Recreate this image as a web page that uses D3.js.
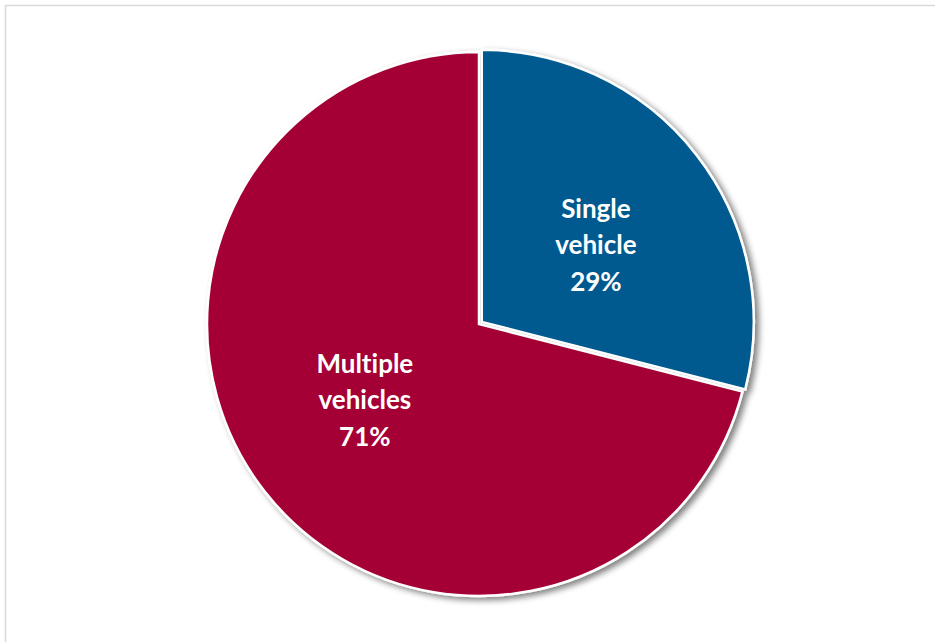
<!DOCTYPE html>
<html>
<head>
<meta charset="utf-8">
<script src="https://cdn.jsdelivr.net/npm/d3@7"></script>
<style>
  html, body { margin: 0; padding: 0; background: #ffffff; }
  svg { display: block; }
  text { font-variant-ligatures: none; font-feature-settings: "liga" 0; }
</style>
</head>
<body>
<svg id="chart" width="935" height="642"></svg>
<script>
// Crash share by number of vehicles involved
const categories = ["Single vehicle", "Multiple vehicles"];
const labelLines = [["Single", "vehicle"], ["Multiple", "vehicles"]];
const shares = [29, 71];
const colors = ["#005A8F", "#A50534"];

const svg = d3.select("#chart");
const width = 935, height = 642;

// chart area frame
svg.append("rect")
  .attr("x", 5.5).attr("y", 5.5)
  .attr("width", width + 10).attr("height", height + 10)
  .attr("fill", "#ffffff")
  .attr("stroke", "#d9d9d9")
  .attr("stroke-width", 1.5);

// soft drop shadow under the pie
const defs = svg.append("defs");
const f = defs.append("filter").attr("id", "shadow")
  .attr("x", "-10%").attr("y", "-10%").attr("width", "130%").attr("height", "130%");
f.append("feGaussianBlur").attr("in", "SourceAlpha").attr("stdDeviation", 3).attr("result", "blur");
f.append("feOffset").attr("in", "blur").attr("dx", 4).attr("dy", 3).attr("result", "off");
f.append("feComponentTransfer").attr("in", "off").attr("result", "soft")
  .append("feFuncA").attr("type", "linear").attr("slope", 0.5);
const merge = f.append("feMerge");
merge.append("feMergeNode").attr("in", "soft");
merge.append("feMergeNode").attr("in", "SourceGraphic");

const cx = 479, cy = 324, r = 272;
const explode = [3.5, 0];

const pie = d3.pie().sort(null).value(d => d)
  .startAngle(0).endAngle(2 * Math.PI);
const arcs = pie(shares);
const arc = d3.arc().innerRadius(0).outerRadius(r);

function sliceShift(d, i) {
  const a = (d.startAngle + d.endAngle) / 2;
  return [explode[i] * Math.sin(a), -explode[i] * Math.cos(a)];
}

const g = svg.append("g")
  .attr("transform", `translate(${cx},${cy})`)
  .attr("filter", "url(#shadow)");

g.selectAll("path")
  .data(arcs)
  .join("path")
  .attr("transform", (d, i) => `translate(${sliceShift(d, i)})`)
  .attr("d", arc)
  .attr("fill", (d, i) => colors[i])
  .attr("stroke", "#ffffff")
  .attr("stroke-width", 2.5)
  .attr("stroke-linejoin", "miter");

// slice labels: name lines plus percentage, placed about half way out
const labelRadius = r * 0.505;
const labelTurn = 0.07;
const lineH = 36.5;
const labels = svg.append("g").attr("transform", `translate(${cx},${cy})`);
arcs.forEach((d, i) => {
  const a = (d.startAngle + d.endAngle) / 2 + labelTurn;
  const [sx, sy] = sliceShift(d, i);
  const lx = sx + labelRadius * Math.sin(a);
  const ly = sy - labelRadius * Math.cos(a);
  const lines = labelLines[i].concat([shares[i] + "%"]);
  const t = labels.append("text")
    .attr("text-anchor", "middle")
    .attr("font-family", "Lato, 'Open Sans', sans-serif")
    .attr("font-weight", "bold")
    .attr("font-size", 26)
    .attr("fill", "#ffffff");
  lines.forEach((ln, k) => {
    t.append("tspan")
      .attr("x", lx)
      .attr("y", ly + (k - (lines.length - 1) / 2) * lineH + 9)
      .text(ln);
  });
});
</script>
</body>
</html>
